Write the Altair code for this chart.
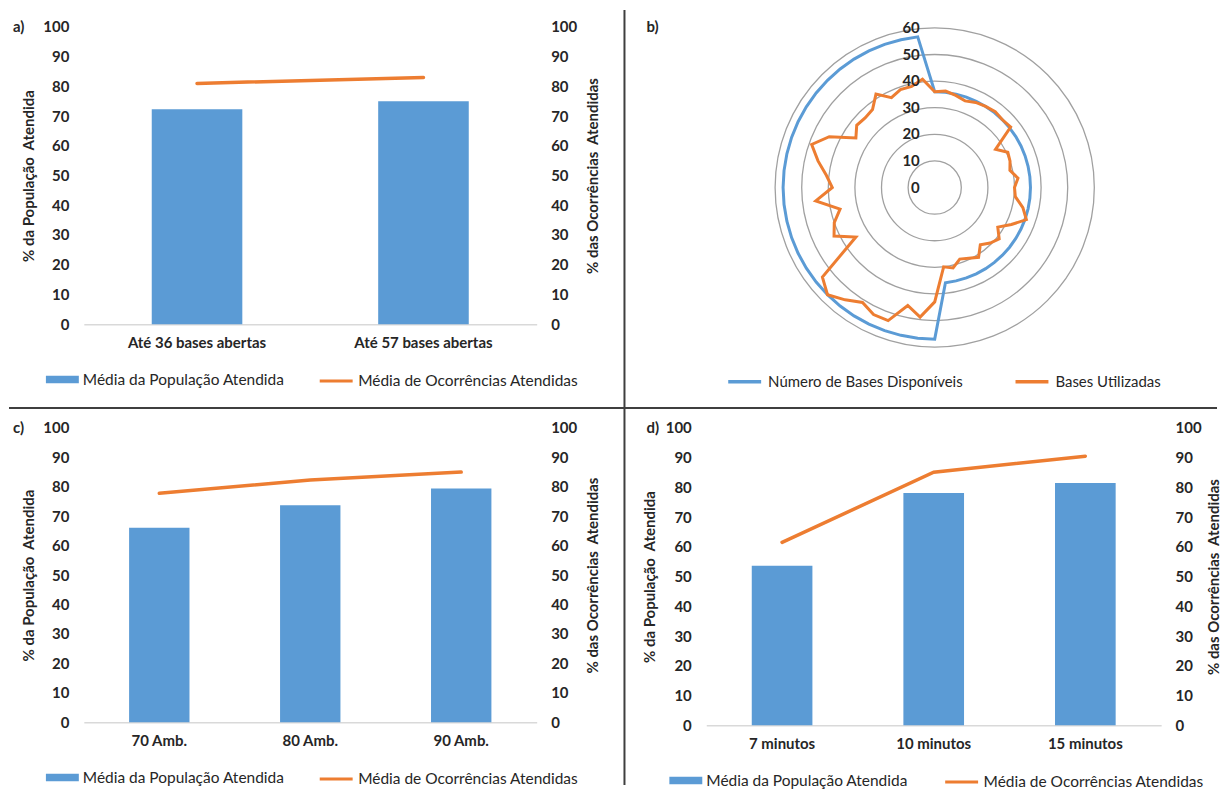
import altair as alt
import pandas as pd

BLUE = "#5B9BD5"
ORANGE = "#ED7D31"
TXT = "#262626"
RING = "#A0A0A0"
DIV = "#3F3F3F"
FONT = "Lato"

POP = "Média da População Atendida"
OCC = "Média de Ocorrências Atendidas"
DISP = "Número de Bases Disponíveis"
USED = "Bases Utilizadas"
LEFT_TITLE = "% da População\u00a0 Atendida"
RIGHT_TITLE = "% das Ocorrências\u00a0 Atendidas"

Y_TICKS = [0, 10, 20, 30, 40, 50, 60, 70, 80, 90, 100]

# panel a
a_cats = ["Até 36 bases abertas", "Até 57 bases abertas"]
a_pop = [72.3, 75.0]
a_occ = [81.0, 83.0]

# panel c
c_cats = ["70 Amb.", "80 Amb.", "90 Amb."]
c_pop = [66.1, 73.7, 79.4]
c_occ = [77.8, 82.3, 85.0]

# panel d
d_cats = ["7 minutos", "10 minutos", "15 minutos"]
d_pop = [53.6, 78.1, 81.5]
d_occ = [61.5, 85.1, 90.5]

# panel b (radar, 56 categories clockwise from top)
radar_idx = list(range(56))
radar_disp = [36, 36, 36, 36, 36, 36, 36, 36, 36, 36,
              36, 36, 36, 36, 36, 36, 36, 36, 36, 36,
              36, 36, 36, 36, 36, 36, 36, 36, 57, 57,
              57, 57, 57, 57, 57, 57, 57, 57, 57, 57,
              57, 57, 57, 57, 57, 57, 57, 57, 57, 57,
              57, 57, 57, 57, 57, 57]
radar_used = [36, 36.5, 35.5, 34.5, 35.5, 36, 36.5, 36, 36.5, 27,
              30.5, 30, 29, 31.5, 30, 30.5, 34, 36.5, 32, 28,
              31, 29.5, 27.5, 31, 29.5, 28.5, 31, 30, 43, 49,
              45.5, 53, 53, 51, 54, 57, 54, 35, 42, 40,
              36.5, 45, 38.5, 41, 45, 49, 44, 35, 37.5, 37,
              37.5, 41.5, 37.5, 39, 39, 41]
ring_values = [10, 20, 30, 40, 50, 60]
radar_ticks = [0, 10, 20, 30, 40, 50, 60]

RECT = "M-1,-0.23H1V0.23H-1Z"
one = pd.DataFrame({"k": [0]})


def tag_mark(text, dx):
    return alt.Chart(one).mark_text(text=text, align="left", baseline="middle", font=FONT,
                                    fontSize=15, fontWeight="bold", color=TXT).encode(
        x=alt.value(dx), y=alt.value(0))


def bar_panel(cats, pop, occ, w, h, tag, tag_dx, lt_x, rt_x, fill_x, stroke_x, leg_y, extra):
    df = pd.DataFrame({"cat": cats, "pop": pop, "occ": occ})
    x_enc = alt.X("cat:N", sort=cats,
                  scale=alt.Scale(paddingInner=0.6, paddingOuter=0.3),
                  axis=alt.Axis(title=None, labelAngle=0, ticks=False, grid=False,
                                domainColor="#D9D9D9", domainWidth=1.5, labelPadding=11,
                                labelFont=FONT, labelFontSize=15, labelFontWeight="bold",
                                labelColor=TXT))
    y_scale = alt.Scale(domain=[0, 100], nice=False)
    common = dict(values=Y_TICKS, grid=False, domain=False, ticks=False,
                  labelFont=FONT, labelFontSize=15, labelFontWeight="bold", labelColor=TXT,
                  titleFont=FONT, titleFontSize=15, titleFontWeight="bold", titleColor=TXT,
                  titleAngle=270, titleY=h / 2, titleAlign="center", titleBaseline="middle")
    leg_common = dict(orient="none", legendY=leg_y, title=None, symbolSize=1089,
                      labelFont=FONT, labelFontSize=15.5, labelColor=TXT,
                      labelOffset=4, labelLimit=500)
    bars = alt.Chart(df).transform_calculate(serie=f"'{POP}'").mark_bar().encode(
        x=x_enc,
        y=alt.Y("pop:Q", scale=y_scale,
                axis=alt.Axis(title=LEFT_TITLE, orient="left", labelPadding=15, titleX=lt_x, **common)),
        fill=alt.Fill("serie:N", scale=alt.Scale(domain=[POP], range=[BLUE]),
                      legend=alt.Legend(legendX=fill_x, symbolType=RECT, symbolStrokeWidth=0,
                                        **leg_common)),
    )
    line = alt.Chart(df).transform_calculate(serie=f"'{OCC}'").mark_line(
        strokeWidth=3.5, strokeCap="round").encode(
        x=x_enc,
        y=alt.Y("occ:Q", scale=y_scale,
                axis=alt.Axis(title=RIGHT_TITLE, orient="right", labelPadding=14, titleX=rt_x, **common)),
        stroke=alt.Stroke("serie:N", scale=alt.Scale(domain=[OCC], range=[ORANGE]),
                          legend=alt.Legend(legendX=stroke_x, symbolType="stroke", symbolStrokeWidth=3,
                                            **leg_common)),
    )
    return alt.layer(bars, line, tag_mark(tag, tag_dx), *extra).resolve_scale(y="independent").properties(
        width=w, height=h)


div_v = alt.Chart(one).mark_rule(color=DIV, strokeWidth=2).encode(
    x=alt.value(542), y=alt.value(-17), y2=alt.value(760))
div_h = alt.Chart(one).mark_rule(color=DIV, strokeWidth=2).encode(
    x=alt.value(-75), x2=alt.value(1136), y=alt.value(382))

panel_a = bar_panel(a_cats, a_pop, a_occ, 454, 298, "a)", -71, -55, 56, -38, 235, 337, [div_v, div_h])
panel_c = bar_panel(c_cats, c_pop, c_occ, 454, 295, "c)", -71, -55, 56, -38, 235, 334, [])
panel_d = bar_panel(d_cats, d_pop, d_occ, 456, 298, "d)", -60, -57, 52, -37, 238, 337, [])

# radar
RW, RH = 458, 322
PXU = 160 / 60
xs = alt.Scale(domain=[-RW / 2 / PXU, RW / 2 / PXU], nice=False, zero=False)
ys = alt.Scale(domain=[-RH / 2 / PXU, RH / 2 / PXU], nice=False, zero=False)

rad_df = pd.DataFrame({"i": radar_idx + radar_idx,
                       "v": radar_disp + radar_used,
                       "serie": [DISP] * len(radar_idx) + [USED] * len(radar_idx)})

rings = alt.Chart(pd.DataFrame({"r": ring_values})).transform_calculate(zero="0").mark_point(
    shape="circle", filled=False, color=RING, strokeWidth=1.3, opacity=1).encode(
    x=alt.X("zero:Q", scale=xs, axis=None),
    y=alt.Y("zero:Q", scale=ys, axis=None),
    size=alt.Size("r:Q", scale=alt.Scale(type="pow", exponent=2, domain=[0, 60],
                                         range=[0, (2 * 160) ** 2]), legend=None),
)

radar_lines = alt.Chart(rad_df).transform_calculate(
    ang="datum.i * 2 * PI / 56",
    px="datum.v * sin(datum.ang)",
    py="datum.v * cos(datum.ang)",
).mark_line(interpolate="linear-closed", strokeWidth=3).encode(
    x=alt.X("px:Q", scale=xs, axis=None),
    y=alt.Y("py:Q", scale=ys, axis=None),
    color=alt.Color("serie:N", scale=alt.Scale(domain=[DISP, USED], range=[BLUE, ORANGE]),
                    legend=alt.Legend(orient="none", legendX=20, legendY=337, direction="horizontal",
                                      title=None, symbolType="stroke", symbolSize=1089,
                                      symbolStrokeWidth=3.5, labelFont=FONT, labelFontSize=15,
                                      labelColor=TXT, labelOffset=5, columnPadding=45,
                                      labelLimit=500)),
    order=alt.Order("i:Q"),
)

radar_labels = alt.Chart(pd.DataFrame({"val": radar_ticks})).transform_calculate(
    zero="0").mark_text(align="right", baseline="middle", dx=-15, font=FONT, fontSize=15,
                        fontWeight="bold", color=TXT).encode(
    x=alt.X("zero:Q", scale=xs, axis=None),
    y=alt.Y("val:Q", scale=ys, axis=None),
    text=alt.Text("val:Q"),
)

panel_b = alt.layer(rings, radar_lines, radar_labels, tag_mark("b)", -60)).properties(
    width=RW, height=RH)

res = dict(color="independent", fill="independent", stroke="independent", size="independent")

chart = alt.concat(panel_a, panel_b, panel_c, panel_d, columns=2, align="each", bounds="flush",
                   spacing={"row": 80, "column": 170}).resolve_scale(**res).resolve_legend(**res).properties(
    padding=0, background="white").configure(font=FONT).configure_view(stroke="transparent", strokeWidth=0)

chart.save("out.html", embed_options={"renderer": "svg", "actions": False})
